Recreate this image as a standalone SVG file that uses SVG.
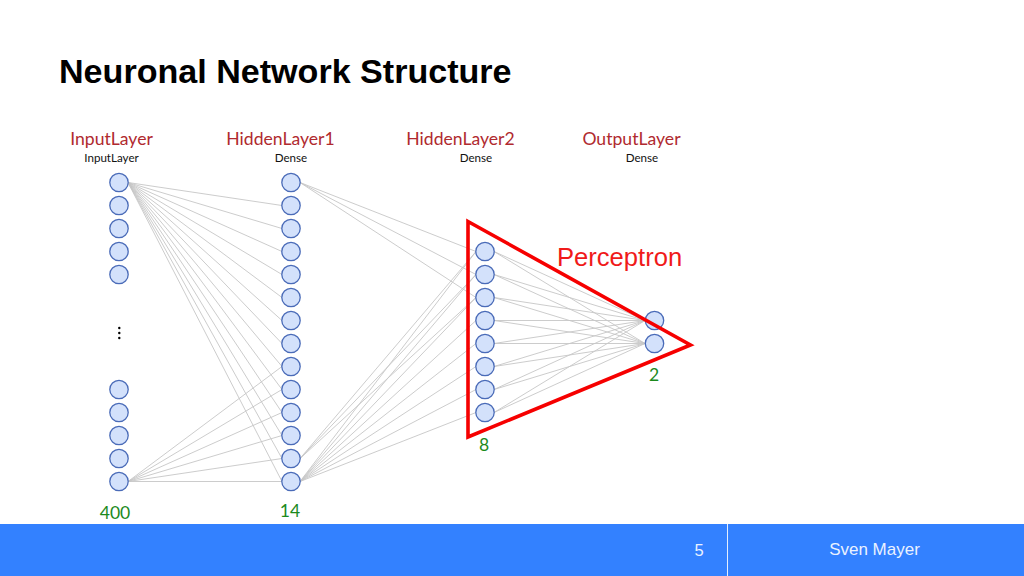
<svg xmlns="http://www.w3.org/2000/svg" width="1024" height="576" viewBox="0 0 1024 576">
<style>
.n{fill:#d3e1fb;stroke:#4a6bb8;stroke-width:1.3}
.c line{stroke:#c6c6c6;stroke-width:.9}
.h{font:17.600px Lato,"Open Sans",sans-serif;fill:#b02a2f;text-anchor:middle}
.s{font:11.600px Lato,"Open Sans",sans-serif;fill:#111;text-anchor:middle}
.g{font:17.600px Lato,"Open Sans",sans-serif;fill:#1c8a1c;text-anchor:middle}
</style>
<rect width="1024" height="576" fill="#fff"/>
<text x="59" y="83" font-family="Liberation Sans,Arial,sans-serif" font-weight="700" font-size="34.100" fill="#000">Neuronal Network Structure</text>
<text class="h" x="111.500" y="144.500">InputLayer</text>
<text class="h" x="280.500" y="144.500">HiddenLayer1</text>
<text class="h" x="460.500" y="144.500">HiddenLayer2</text>
<text class="h" x="631.500" y="144.500">OutputLayer</text>
<text class="s" x="111.500" y="162">InputLayer</text>
<text class="s" x="291" y="162">Dense</text>
<text class="s" x="476" y="162">Dense</text>
<text class="s" x="642" y="162">Dense</text>
<g id="connectors" class="c">
<line x1="128" y1="182.500" x2="282" y2="205.500"/><line x1="128" y1="182.500" x2="282" y2="228.500"/><line x1="128" y1="182.500" x2="282" y2="251.500"/><line x1="128" y1="182.500" x2="282" y2="274.500"/><line x1="128" y1="182.500" x2="282" y2="297.500"/><line x1="128" y1="182.500" x2="282" y2="320.500"/><line x1="128" y1="182.500" x2="282" y2="343.500"/><line x1="128" y1="182.500" x2="282" y2="366.500"/><line x1="128" y1="182.500" x2="282" y2="389.500"/><line x1="128" y1="182.500" x2="282" y2="412.500"/><line x1="128" y1="182.500" x2="282" y2="435.500"/><line x1="128" y1="182.500" x2="282" y2="458.500"/><line x1="128" y1="182.500" x2="282" y2="481.500"/>
<line x1="128" y1="481.500" x2="282" y2="366.500"/><line x1="128" y1="481.500" x2="282" y2="389.500"/><line x1="128" y1="481.500" x2="282" y2="412.500"/><line x1="128" y1="481.500" x2="282" y2="435.500"/><line x1="128" y1="481.500" x2="282" y2="458.500"/><line x1="128" y1="481.500" x2="282" y2="481.500"/>
<line x1="300" y1="182.500" x2="476" y2="251.500"/><line x1="300" y1="182.500" x2="476" y2="274.500"/><line x1="300" y1="182.500" x2="476" y2="297.500"/>
<line x1="300" y1="458.500" x2="476" y2="251.500"/><line x1="300" y1="458.500" x2="476" y2="274.500"/><line x1="300" y1="458.500" x2="476" y2="297.500"/>
<line x1="300" y1="481.500" x2="476" y2="251.500"/><line x1="300" y1="481.500" x2="476" y2="274.500"/><line x1="300" y1="481.500" x2="476" y2="297.500"/><line x1="300" y1="481.500" x2="476" y2="320.500"/><line x1="300" y1="481.500" x2="476" y2="343.500"/><line x1="300" y1="481.500" x2="476" y2="366.500"/><line x1="300" y1="481.500" x2="476" y2="389.500"/><line x1="300" y1="481.500" x2="476" y2="412.500"/>
<line x1="494" y1="251.500" x2="645" y2="320.500"/><line x1="494" y1="274.500" x2="645" y2="320.500"/><line x1="494" y1="297.500" x2="645" y2="320.500"/><line x1="494" y1="320.500" x2="645" y2="320.500"/><line x1="494" y1="343.500" x2="645" y2="320.500"/><line x1="494" y1="366.500" x2="645" y2="320.500"/><line x1="494" y1="389.500" x2="645" y2="320.500"/><line x1="494" y1="412.500" x2="645" y2="320.500"/>
<line x1="494" y1="251.500" x2="645" y2="343.500"/><line x1="494" y1="274.500" x2="645" y2="343.500"/><line x1="494" y1="297.500" x2="645" y2="343.500"/><line x1="494" y1="320.500" x2="645" y2="343.500"/><line x1="494" y1="343.500" x2="645" y2="343.500"/><line x1="494" y1="366.500" x2="645" y2="343.500"/><line x1="494" y1="389.500" x2="645" y2="343.500"/><line x1="494" y1="412.500" x2="645" y2="343.500"/>
</g>
<g id="input-layer">
<circle class="n" cx="119" cy="182.500" r="9.200"/><circle class="n" cx="119" cy="205.500" r="9.200"/><circle class="n" cx="119" cy="228.500" r="9.200"/><circle class="n" cx="119" cy="251.500" r="9.200"/><circle class="n" cx="119" cy="274.500" r="9.200"/>
<circle class="n" cx="119" cy="389.500" r="9.200"/><circle class="n" cx="119" cy="412.500" r="9.200"/><circle class="n" cx="119" cy="435.500" r="9.200"/><circle class="n" cx="119" cy="458.500" r="9.200"/><circle class="n" cx="119" cy="481.500" r="9.200"/>
<circle cx="119.300" cy="328" r="1.200"/><circle cx="119.300" cy="333" r="1.200"/><circle cx="119.300" cy="338" r="1.200"/>
</g>
<g id="hidden-layer-1">
<circle class="n" cx="291" cy="182.500" r="9.200"/><circle class="n" cx="291" cy="205.500" r="9.200"/><circle class="n" cx="291" cy="228.500" r="9.200"/><circle class="n" cx="291" cy="251.500" r="9.200"/><circle class="n" cx="291" cy="274.500" r="9.200"/><circle class="n" cx="291" cy="297.500" r="9.200"/><circle class="n" cx="291" cy="320.500" r="9.200"/><circle class="n" cx="291" cy="343.500" r="9.200"/><circle class="n" cx="291" cy="366.500" r="9.200"/><circle class="n" cx="291" cy="389.500" r="9.200"/><circle class="n" cx="291" cy="412.500" r="9.200"/><circle class="n" cx="291" cy="435.500" r="9.200"/><circle class="n" cx="291" cy="458.500" r="9.200"/><circle class="n" cx="291" cy="481.500" r="9.200"/>
</g>
<g id="hidden-layer-2">
<circle class="n" cx="485" cy="251.500" r="9.200"/><circle class="n" cx="485" cy="274.500" r="9.200"/><circle class="n" cx="485" cy="297.500" r="9.200"/><circle class="n" cx="485" cy="320.500" r="9.200"/><circle class="n" cx="485" cy="343.500" r="9.200"/><circle class="n" cx="485" cy="366.500" r="9.200"/><circle class="n" cx="485" cy="389.500" r="9.200"/><circle class="n" cx="485" cy="412.500" r="9.200"/>
</g>
<g id="output-layer">
<circle class="n" cx="654.500" cy="320.500" r="9.200"/><circle class="n" cx="654.500" cy="343.500" r="9.200"/>
</g>
<g id="perceptron">
<polygon points="468,221.500 690.500,345 468,437" fill="none" stroke="#f60000" stroke-width="3.600"/>
<text x="557" y="266" font-family="Liberation Sans,Arial,sans-serif" font-size="25.600" fill="#f01a1a">Perceptron</text>
</g>
<text class="g" x="115" y="519">400</text>
<text class="g" x="290" y="517">14</text>
<text class="g" x="484" y="451">8</text>
<text class="g" x="654" y="381">2</text>
<g id="footer">
<rect x="0" y="524" width="1024" height="52" fill="#3381ff"/>
<rect x="727" y="524" width="1" height="52" fill="#e4eeff"/>
<text x="699" y="556" text-anchor="middle" font-family="Liberation Sans,Arial,sans-serif" font-size="16.500" fill="#eaf2ff">5</text>
<text x="874.500" y="555" text-anchor="middle" font-family="Liberation Sans,Arial,sans-serif" font-size="17" fill="#eaf2ff">Sven Mayer</text>
</g>
</svg>
